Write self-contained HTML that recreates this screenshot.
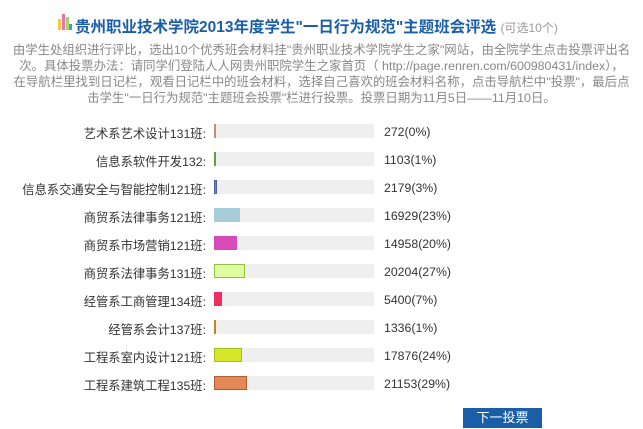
<!DOCTYPE html>
<html><head><meta charset="utf-8">
<style>
body{margin:0;width:643px;height:429px;background:#fff;overflow:hidden;position:relative;font-family:"Liberation Sans","Noto Sans CJK SC",sans-serif;}
.title{position:absolute;left:75px;top:15px;font-size:15.5px;font-weight:bold;color:#1a5ea8;white-space:nowrap;}
.title span{font-weight:normal;font-size:12px;color:#999;}
.desc{position:absolute;left:0;top:42px;width:643px;font-size:12.4px;line-height:16px;color:#888;}
.desc div{text-align:center;white-space:nowrap;}
.lbl{position:absolute;right:437px;font-size:12.3px;color:#333;white-space:nowrap;}
.track{position:absolute;left:214px;width:160px;height:14px;background:#efefef;}
.bar{position:absolute;left:0;top:0;height:14px;box-sizing:border-box;}
.val{position:absolute;left:384px;font-size:12.3px;color:#333;white-space:nowrap;}
.btn{position:absolute;left:463px;top:408px;width:79px;height:20px;background:#1a5ea8;color:#fff;font-size:13px;text-align:center;line-height:20px;}
</style></head><body>
<svg style="position:absolute;left:58px;top:13px" width="14" height="18">
<rect x="0" y="6" width="3" height="11" fill="#f5c842"/><rect x="4" y="1" width="3" height="16" fill="#f06fb0"/><rect x="8" y="4" width="3" height="13" fill="#a8d860"/><rect x="11" y="11" width="3" height="6" fill="#3aa0e0"/>
</svg>
<div class="title">贵州职业技术学院2013年度学生"一日行为规范"主题班会评选 <span>(可选10个)</span></div>
<div class="desc">
<div>由学生处组织进行评比，选出10个优秀班会材料挂"贵州职业技术学院学生之家"网站，由全院学生点击投票评出名</div>
<div>次。具体投票办法：请同学们登陆人人网贵州职院学生之家首页（ http://page.renren.com/600980431/index），</div>
<div>在导航栏里找到日记栏，观看日记栏中的班会材料，选择自己喜欢的班会材料名称，点击导航栏中"投票"，最后点</div>
<div>击学生"一日行为规范"主题班会投票"栏进行投票。投票日期为11月5日——11月10日。</div>
</div>
<div id="chart"></div>
<div class="btn">下一投票</div>
<script>
const categories=["艺术系艺术设计131班:","信息系软件开发132:","信息系交通安全与智能控制121班:","商贸系法律事务121班:","商贸系市场营销121班:","商贸系法律事务131班:","经管系工商管理134班:","经管系会计137班:","工程系室内设计121班:","工程系建筑工程135班:"];
const votes=[272,1103,2179,16929,14958,20204,5400,1336,17876,21153];
const percents=[0,1,3,23,20,27,7,1,24,29];
const colors=["#e8b890","#8fd070","#6d82c0","#a6ccd8","#d84ab8","#e0fca0","#ee3060","#f8b050","#d8e828","#e48858"];
const borders=["#c09070","#60a040","#50609a","#a6ccd8","#d84ab8","#90c040","#ee3060","#d08020","#a0c020","#b06030"];
const chart=document.getElementById('chart');
function xScale(v){return Math.max(1,Math.round(v/650));}
function yPos(i){return 124+i*28;}
categories.forEach((c,i)=>{
  const y=yPos(i);
  const l=document.createElement('div');l.className='lbl';l.style.top=(y)+'px';l.textContent=c;
  
  
  chart.appendChild(l);
  const t=document.createElement('div');t.className='track';t.style.top=y+'px';
  
  
  const b=document.createElement('div');b.className='bar';b.style.width=xScale(votes[i])+'px';b.style.background=colors[i];b.style.border='1px solid '+borders[i];
  
  
  t.appendChild(b);chart.appendChild(t);
  const v=document.createElement('div');v.className='val';v.style.top=(y+1)+'px';v.textContent=votes[i]+'('+percents[i]+'%)';
  
  
  chart.appendChild(v);
});
</script>
</body></html>
